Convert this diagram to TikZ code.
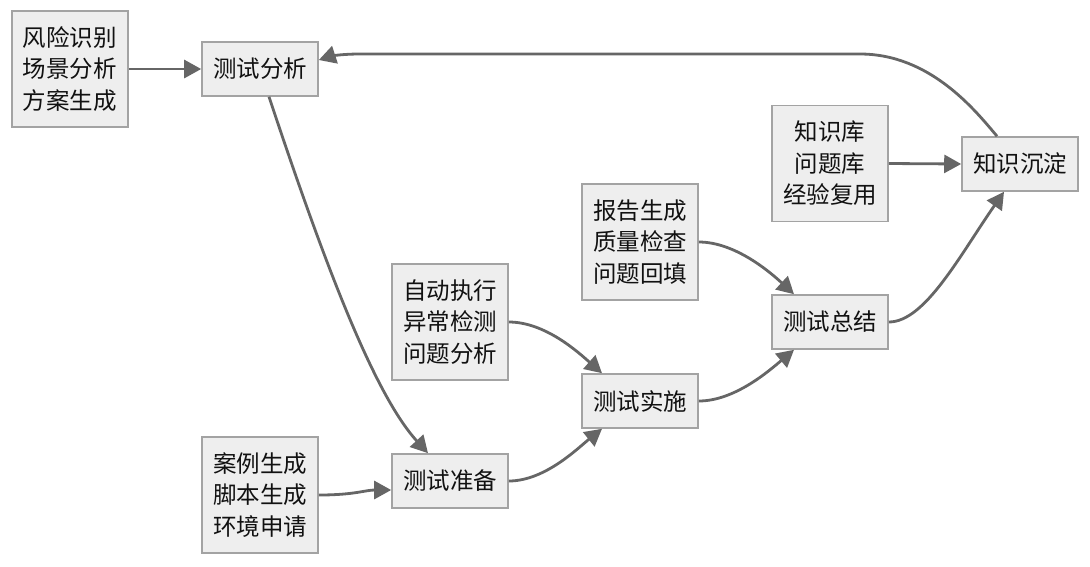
\documentclass[tikz,border=0pt]{standalone}
\usepackage{fontspec}
\setmainfont{Noto Sans CJK SC}
\usetikzlibrary{arrows.meta,calc}
\definecolor{linec}{HTML}{666666}
\definecolor{boxfill}{HTML}{EEEEEE}
\definecolor{boxline}{HTML}{A3A3A3}
\definecolor{textc}{HTML}{111111}
\tikzset{
  box/.style={draw=boxline, fill=boxfill, line width=1.6pt, minimum width=116pt,
    align=center, inner sep=0pt, text=textc, font=\fontsize{23.5}{31.5}\selectfont},
  shortbox/.style={box, minimum height=54pt},
  tallbox/.style={box, minimum height=116pt},
  conn/.style={draw=linec, line width=2.8pt, -{Triangle[length=17pt,width=18pt]}}
}
\begin{document}
\begin{tikzpicture}[x=1pt,y=1pt]
\useasboundingbox (0,0) rectangle (1090,-566);
\node[tallbox]  (A) at (70,-69)   {风险识别\\场景分析\\方案生成};
\node[shortbox] (B) at (260,-69)  {测试分析};
\node[shortbox] (C) at (450,-481) {测试准备};
\node[tallbox]  (D) at (260,-495) {案例生成\\脚本生成\\环境申请};
\node[tallbox]  (E) at (450,-322) {自动执行\\异常检测\\问题分析};
\node[shortbox] (F) at (640,-401) {测试实施};
\node[tallbox]  (G) at (640,-242) {报告生成\\质量检查\\问题回填};
\node[shortbox] (H) at (830,-322) {测试总结};
\node[tallbox]  (I) at (830,-163.5) {知识库\\问题库\\经验复用};
\node[shortbox] (J) at (1020,-164) {知识沉淀};

\draw[conn] (A.east) -- (B.west);
\draw[conn] ($(B.south)+(9,0)$) .. controls (320,-250) and (372,-392) .. ($(C.north)+(-22,0)$);
\draw[conn] (D.east) .. controls (355,-495) and (365,-490) .. ($(C.west)+(0,-9)$);
\draw[conn] (C.east) .. controls (545,-481) and (578,-448) .. ($(F.south)+(-38,0)$);
\draw[conn] (E.east) .. controls (545,-322) and (578,-352) .. ($(F.north)+(-38,0)$);
\draw[conn] (F.east) .. controls (735,-401) and (770,-370) .. ($(H.south)+(-36,0)$);
\draw[conn] (G.east) .. controls (735,-242) and (770,-272) .. ($(H.north)+(-36,0)$);
\draw[conn] (H.east) .. controls (925,-322) and (960,-255) .. ($(J.south)+(-16,0)$);
\draw[conn] (I.east) -- (J.west);
\draw[conn] ($(J.north)+(-23,0)$) .. controls (975,-110) and (930,-54) .. (860,-54)
  -- (360,-54) .. controls (338,-54) and (328,-57) .. ($(B.east)+(0,9)$);
\end{tikzpicture}
\end{document}
